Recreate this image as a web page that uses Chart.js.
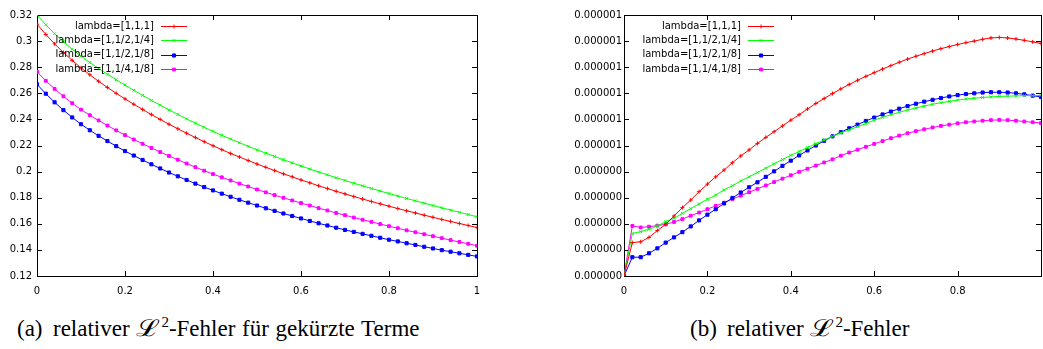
<!DOCTYPE html>
<html>
<head>
<meta charset="utf-8">
<script src="https://cdn.jsdelivr.net/npm/chart.js@4"></script>
<style>
html, body { margin: 0; padding: 0; overflow: hidden; background: #fff; width: 1043px; height: 349px; }
.box { position: absolute; top: 0; width: 490px; height: 305px; }
#boxA { left: 0; }
#boxB { left: 560px; }
.cap { position: absolute; top: 317px; font-family: "Liberation Serif", "Times New Roman", serif; font-size: 23px; line-height: 24px; white-space: nowrap; color: #000; word-spacing: 1px; }
.cap sup { font-size: 15px; line-height: 0; }
.cap .L { display: inline-block; width: 25px; transform: scaleX(1.25); transform-origin: left center; }
</style>
</head>
<body>
<div class="box" id="boxA"><canvas id="chartA"></canvas></div>
<div class="box" id="boxB"><canvas id="chartB"></canvas></div>
<div class="cap" style="left:17px">(a)</div>
<div class="cap" style="left:53px">relativer <span class="L">ℒ</span><sup>2</sup>-Fehler für gekürzte Terme</div>
<div class="cap" style="left:690px">(b)</div>
<div class="cap" style="left:727px">relativer <span class="L">ℒ</span><sup>2</sup>-Fehler</div>
<script>
// x positions, same for every curve
const X = [0,0.02,0.04,0.06,0.08,0.1,0.12,0.14,0.16,0.18,0.2,0.22,0.24,0.26,0.28,0.3,0.32,0.34,0.36,0.38,0.4,0.42,0.44,0.46,0.48,0.5,0.52,0.54,0.56,0.58,0.6,0.62,0.64,0.66,0.68,0.7,0.72,0.74,0.76,0.78,0.8,0.82,0.84,0.86,0.88,0.9,0.92,0.94,0.96,0.98,1];

const LABELS = ['lambda=[1,1,1]', 'lambda=[1,1/2,1/4]', 'lambda=[1,1/2,1/8]', 'lambda=[1,1/4,1/8]'];

// (a) gekürzte Terme
const A_L111 = [0.3130,0.3051,0.2979,0.2913,0.2852,0.2795,0.2742,0.2692,0.2645,0.2600,0.2557,0.2516,0.2476,0.2437,0.2400,0.2363,0.2328,0.2294,0.2261,0.2229,0.2198,0.2168,0.2139,0.2112,0.2085,0.2058,0.2033,0.2008,0.1983,0.1960,0.1936,0.1914,0.1891,0.1870,0.1849,0.1829,0.1809,0.1790,0.1771,0.1753,0.1735,0.1717,0.1700,0.1683,0.1666,0.1650,0.1633,0.1618,0.1602,0.1587,0.1571];
const A_L124 = [0.3200,0.3125,0.3057,0.2995,0.2938,0.2885,0.2836,0.2790,0.2746,0.2704,0.2663,0.2623,0.2584,0.2546,0.2509,0.2473,0.2438,0.2404,0.2371,0.2339,0.2308,0.2278,0.2249,0.2221,0.2194,0.2167,0.2141,0.2116,0.2091,0.2067,0.2043,0.2020,0.1997,0.1975,0.1953,0.1932,0.1911,0.1891,0.1871,0.1851,0.1832,0.1813,0.1794,0.1776,0.1758,0.1740,0.1722,0.1705,0.1688,0.1671,0.1654];
const A_L128 = [0.2669,0.2597,0.2531,0.2471,0.2415,0.2363,0.2317,0.2274,0.2234,0.2195,0.2157,0.2123,0.2089,0.2056,0.2024,0.1993,0.1964,0.1936,0.1908,0.1881,0.1856,0.1831,0.1807,0.1784,0.1762,0.1740,0.1719,0.1699,0.1679,0.1660,0.1641,0.1622,0.1604,0.1587,0.1570,0.1553,0.1538,0.1523,0.1508,0.1493,0.1478,0.1465,0.1451,0.1438,0.1424,0.1411,0.1398,0.1386,0.1374,0.1362,0.1350];
const A_L148 = [0.2765,0.2696,0.2634,0.2577,0.2524,0.2475,0.2432,0.2392,0.2353,0.2316,0.2280,0.2246,0.2213,0.2181,0.2150,0.2120,0.2091,0.2062,0.2034,0.2007,0.1981,0.1956,0.1932,0.1908,0.1886,0.1863,0.1841,0.1820,0.1799,0.1779,0.1759,0.1740,0.1720,0.1702,0.1683,0.1666,0.1648,0.1631,0.1615,0.1598,0.1582,0.1566,0.1550,0.1535,0.1520,0.1505,0.1490,0.1475,0.1461,0.1447,0.1432];
const A_YTICKS = {0.32:'0.32',0.3:'0.3',0.28:'0.28',0.26:'0.26',0.24:'0.24',0.22:'0.22',0.2:'0.2',0.18:'0.18',0.16:'0.16',0.14:'0.14',0.12:'0.12'};
const A_XTICKS = ['0','0.2','0.4','0.6','0.8','1'];

// (b) values in units of 1e-7
const B_L111 = [0,1.28,1.31,1.48,1.74,1.98,2.30,2.62,2.91,3.23,3.52,3.80,4.06,4.34,4.60,4.83,5.08,5.31,5.53,5.75,5.97,6.18,6.40,6.61,6.80,6.99,7.17,7.34,7.50,7.65,7.79,7.93,8.06,8.19,8.31,8.42,8.52,8.62,8.71,8.79,8.87,8.94,9.00,9.07,9.12,9.14,9.12,9.08,9.03,8.97,8.91];
const B_L124 = [0,1.63,1.70,1.79,1.92,2.08,2.21,2.40,2.58,2.76,2.94,3.10,3.30,3.46,3.64,3.80,3.96,4.13,4.30,4.46,4.62,4.77,4.92,5.07,5.21,5.35,5.48,5.60,5.72,5.84,5.97,6.08,6.18,6.27,6.36,6.44,6.51,6.58,6.64,6.69,6.74,6.78,6.81,6.84,6.86,6.88,6.89,6.90,6.91,6.91,6.92];
const B_L128 = [0,0.72,0.72,0.87,1.06,1.28,1.48,1.68,1.90,2.13,2.35,2.56,2.78,2.99,3.20,3.40,3.59,3.80,4.01,4.22,4.42,4.62,4.81,5.00,5.18,5.35,5.51,5.66,5.80,5.94,6.07,6.19,6.30,6.41,6.51,6.60,6.68,6.75,6.82,6.88,6.93,6.97,7.00,7.03,7.04,7.04,7.03,7.00,6.96,6.91,6.86];
const B_L148 = [0,1.92,1.86,1.89,1.93,1.98,2.07,2.18,2.31,2.43,2.56,2.69,2.81,2.95,3.08,3.21,3.34,3.47,3.60,3.73,3.86,3.99,4.11,4.23,4.35,4.47,4.61,4.73,4.84,4.95,5.06,5.17,5.28,5.38,5.47,5.55,5.62,5.69,5.75,5.80,5.85,5.89,5.92,5.95,5.97,5.98,5.97,5.95,5.92,5.89,5.86];
const B_YTICKS = ['0.000000','0.000000','0.000000','0.000000','0.000000','0.000001','0.000001','0.000001','0.000001','0.000001','0.000001'];
const B_XTICKS = ['0','0.2','0.4','0.6','0.8',''];

const COLORS = ['#ff0000', '#00ff00', '#0000ff', '#ff00ff'];
const STYLES = ['cross', 'crossRot', 'rect', 'rect'];
const RADII = [2, 2, 2.2, 2];
const FONT = { family: 'DejaVu Sans', size: 10 };

function makeSets(series) {
    return series.map((ys, i) => ({
        label: LABELS[i],
        data: X.map((x, j) => ({ x: x, y: ys[j] })),
        borderColor: COLORS[i],
        backgroundColor: COLORS[i],
        borderWidth: 1,
        pointStyle: STYLES[i],
        pointRadius: RADII[i],
        pointBorderWidth: 1,
        pointHoverRadius: RADII[i],
        tension: 0
    }));
}

// gnuplot style box with ticks pointing inwards + key in the upper left
const gnuplotLook = {
    id: 'gnuplotLook',
    beforeDatasetsDraw(chart) {
        const { ctx, chartArea: a, scales } = chart;
        ctx.save();
        ctx.strokeStyle = '#000';
        ctx.lineWidth = 1;
        ctx.strokeRect(a.left + 0.5, a.top + 0.5, a.right - a.left, a.bottom - a.top);
        ctx.beginPath();
        scales.x.ticks.forEach(t => {
            const px = Math.round(scales.x.getPixelForValue(t.value)) + 0.5;
            if (px < a.left + 2 || px > a.right - 2) return;
            ctx.moveTo(px, a.bottom); ctx.lineTo(px, a.bottom - 5);
            ctx.moveTo(px, a.top); ctx.lineTo(px, a.top + 5);
        });
        scales.y.ticks.forEach(t => {
            const py = Math.round(scales.y.getPixelForValue(t.value)) + 0.5;
            if (py < a.top + 2 || py > a.bottom - 2) return;
            ctx.moveTo(a.left, py); ctx.lineTo(a.left + 5, py);
            ctx.moveTo(a.right, py); ctx.lineTo(a.right - 5, py);
        });
        ctx.stroke();
        ctx.restore();
    },
    afterDatasetsDraw(chart) {
        const { ctx, chartArea: a } = chart;
        ctx.save();
        ctx.font = '10px "DejaVu Sans"';
        ctx.textAlign = 'right';
        ctx.textBaseline = 'middle';
        chart.data.datasets.forEach((ds, i) => {
            const y = a.top + 11 + i * 14.4;
            ctx.fillStyle = '#000';
            ctx.fillText(ds.label, a.left + 117, y);
            ctx.strokeStyle = ds.borderColor;
            ctx.lineWidth = 1;
            ctx.beginPath();
            ctx.moveTo(a.left + 124, Math.round(y) + 0.5);
            ctx.lineTo(a.left + 150, Math.round(y) + 0.5);
            ctx.stroke();
            ctx.fillStyle = ds.backgroundColor;
            Chart.helpers.drawPoint(ctx, { pointStyle: ds.pointStyle, radius: ds.pointRadius, rotation: 0, borderWidth: 1 }, a.left + 137, Math.round(y) + 0.5);
        });
        ctx.restore();
    }
};

function makeChart(id, sets, yOpts, yWidth, yPad, xLabels, pad) {
    return new Chart(document.getElementById(id), {
        type: 'line',
        data: { datasets: sets },
        plugins: [gnuplotLook],
        options: {
            responsive: true,
            maintainAspectRatio: false,
            animation: false,
            layout: { padding: pad },
            plugins: { legend: { display: false }, tooltip: { enabled: false } },
            scales: {
                x: {
                    type: 'linear',
                    min: 0, max: 1,
                    grid: { display: false, drawTicks: false },
                    border: { display: false },
                    afterFit: s => { s.height = 20; },
                    ticks: {
                        stepSize: 0.2, autoSkip: false, maxRotation: 0, padding: 9,
                        color: '#000', font: FONT,
                        callback: (v) => xLabels[Math.round(v * 5)]
                    }
                },
                y: Object.assign({
                    grid: { display: false, drawTicks: false },
                    border: { display: false },
                    afterFit: s => { s.width = yWidth; }
                }, yOpts, {
                    ticks: Object.assign({ autoSkip: false, padding: yPad, color: '#000', font: FONT }, yOpts.ticks)
                })
            }
        }
    });
}

makeChart('chartA', makeSets([A_L111, A_L124, A_L128, A_L148]), {
    min: 0.12, max: 0.32,
    ticks: { stepSize: 0.02, callback: v => A_YTICKS[Math.round(v * 100) / 100] }
}, 37, 5, A_XTICKS, { left: 0, top: 15, right: 13, bottom: 9 });

makeChart('chartB', makeSets([B_L111, B_L124, B_L128, B_L148]), {
    min: 0, max: 10,
    ticks: { stepSize: 1, callback: v => B_YTICKS[Math.round(v)] }
}, 64, 2, B_XTICKS, { left: 0, top: 15, right: 6, bottom: 9 });
</script>
</body>
</html>
